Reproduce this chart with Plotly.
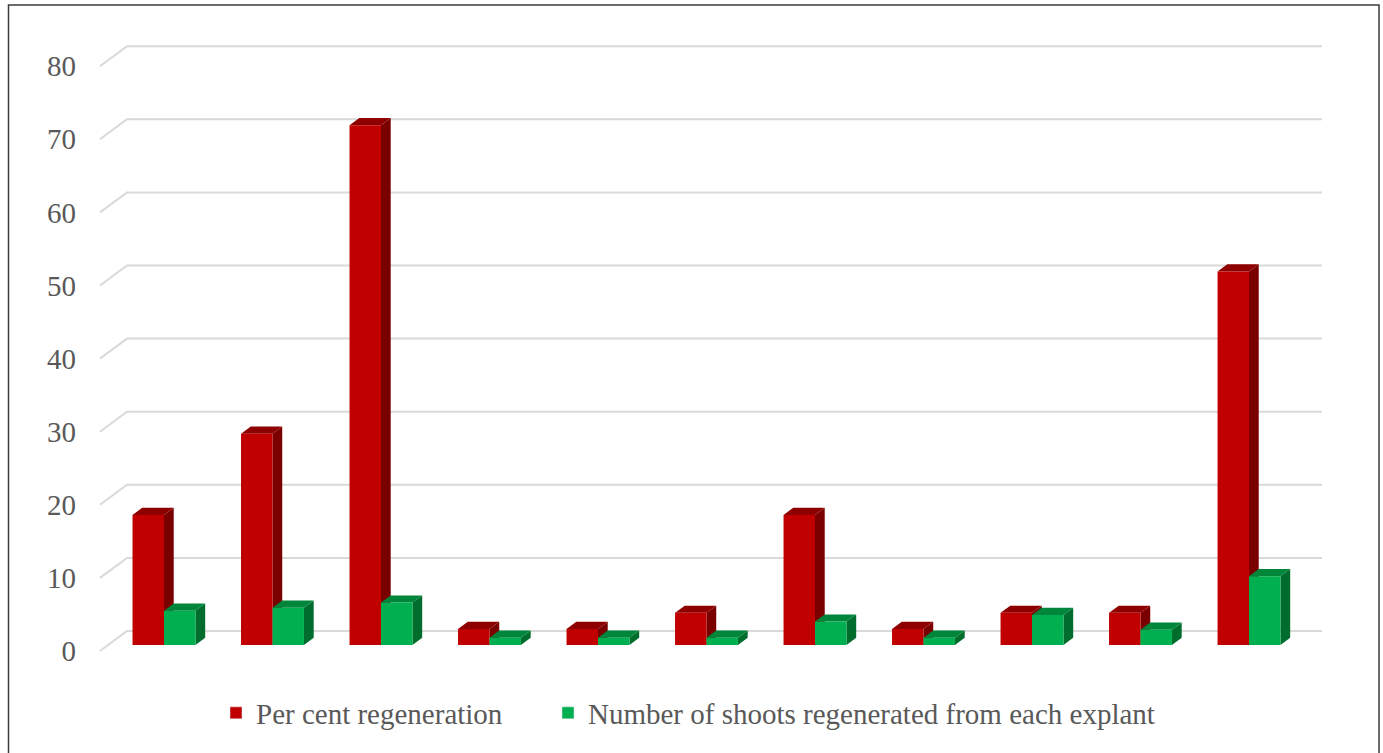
import plotly.graph_objects as go

# ---- data -------------------------------------------------------------
treatments = ["T1", "T2", "T3", "T4", "T5", "T6", "T7", "T8", "T9", "T10", "T11"]
per_cent_regeneration = [17.8, 28.9, 71.1, 2.2, 2.2, 4.4, 17.8, 2.2, 4.4, 4.4, 51.1]
shoots_per_explant = [4.7, 5.1, 5.8, 1.0, 1.0, 1.0, 3.2, 1.0, 4.1, 2.1, 9.4]
series_names = ["Per cent regeneration", "Number of shoots regenerated from each explant"]
y_ticks = [0, 10, 20, 30, 40, 50, 60, 70, 80]

# ---- styling / pseudo-3D geometry --------------------------------------
W, H = 1383, 753
FONT = "Liberation Serif"
TXT = "#595959"
GRID = "#d9d9d9"

RED = dict(front="#c00000", side="#7a0000", top="#8e0000")
GREEN = dict(front="#00b050", side="#006d2c", top="#00863b")

# axis ranges (category index on x, value on y)
X_RANGE = [-1.5115, 11.235]
Y_RANGE = [-14.774, 88.235]

BAR_W = 0.29          # width of one bar, in category units
DEPTH_X = 0.249       # full floor depth, x component (category units)
DEPTH_Y = 2.736       # full floor depth, y component (value units)
BAR_DEPTH = 0.36      # bar depth as a fraction of the floor depth
FRONT_FRAC = 0.30     # bars' front faces sit this far behind the floor front
GRID_X0 = -0.590      # left (front) end of the grid lines
GRID_X1 = 10.673      # right end of the back-wall grid lines

bdx = DEPTH_X * BAR_DEPTH
bdy = DEPTH_Y * BAR_DEPTH

fig = go.Figure()

# back-wall grid lines with their diagonal run along the side wall
gx, gy = [], []
for v in y_ticks:
    yf = v - FRONT_FRAC * DEPTH_Y
    yb = v + (1 - FRONT_FRAC) * DEPTH_Y
    gx += [GRID_X0, GRID_X0 + DEPTH_X, GRID_X1, None]
    gy += [yf, yb, yb, None]
fig.add_trace(go.Scatter(x=gx, y=gy, mode="lines", line=dict(color=GRID, width=2),
                         hoverinfo="skip", showlegend=False))


def box_faces(lefts, values):
    """Polygons for the side, top and front faces of a row of columns."""
    side_x, side_y, top_x, top_y, fr_x, fr_y = [], [], [], [], [], []
    for x0, v in zip(lefts, values):
        x1 = x0 + BAR_W
        side_x += [x1, x1 + bdx, x1 + bdx, x1, None]
        side_y += [0, bdy, v + bdy, v, None]
        top_x += [x0, x0 + bdx, x1 + bdx, x1, None]
        top_y += [v, v + bdy, v + bdy, v, None]
        fr_x += [x0, x1, x1, x0, None]
        fr_y += [0, 0, v, v, None]
    return (side_x, side_y), (top_x, top_y), (fr_x, fr_y)


idx = list(range(len(treatments)))
for lefts, values, col in [
    ([i - BAR_W for i in idx], per_cent_regeneration, RED),
    (idx, shoots_per_explant, GREEN),
]:
    side, top, front = box_faces(lefts, values)
    for (px, py), c in [(side, col["side"]), (top, col["top"]), (front, col["front"])]:
        fig.add_trace(go.Scatter(x=px, y=py, mode="none", fill="toself", fillcolor=c,
                                 hoverinfo="skip", showlegend=False))

# placeholder trace so the value-label axis gets drawn
fig.add_trace(go.Scatter(x=[None], y=[None], yaxis="y2", showlegend=False, hoverinfo="skip"))

# legend entries, one legend box per series
for name, col, lg in zip(series_names, [RED, GREEN], ["legend", "legend2"]):
    fig.add_trace(go.Bar(x=[None], y=[None], name=name, marker_color=col["front"], legend=lg))

legend_common = dict(orientation="h", xanchor="left", yanchor="middle", y=1 - 713 / H,
                     font=dict(family=FONT, color=TXT, size=29), bgcolor="rgba(0,0,0,0)")

fig.update_layout(
    width=W, height=H,
    margin=dict(l=0, r=0, t=0, b=0),
    paper_bgcolor="white", plot_bgcolor="white",
    font=dict(family=FONT, color=TXT, size=29),
    xaxis=dict(range=X_RANGE, visible=False, fixedrange=True),
    yaxis=dict(range=Y_RANGE, visible=False, fixedrange=True),
    yaxis2=dict(
        overlaying="y", anchor="free", side="left", position=76 / W,
        range=[Y_RANGE[0] + FRONT_FRAC * DEPTH_Y, Y_RANGE[1] + FRONT_FRAC * DEPTH_Y],
        tickvals=y_ticks, ticktext=[str(t) for t in y_ticks],
        showgrid=False, zeroline=False, showline=False, ticks="",
        tickfont=dict(family=FONT, color=TXT, size=29), fixedrange=True,
    ),
    legend=dict(x=216 / W, **legend_common),
    legend2=dict(x=548 / W, **legend_common),
    shapes=[dict(type="rect", xref="paper", yref="paper",
                 x0=8.5 / W, x1=1379 / W, y0=-0.02, y1=1 - 5 / H,
                 line=dict(color="#3c3c3c", width=1.5), fillcolor="rgba(0,0,0,0)")],
    showlegend=True,
)

fig.write_html("out.html")
